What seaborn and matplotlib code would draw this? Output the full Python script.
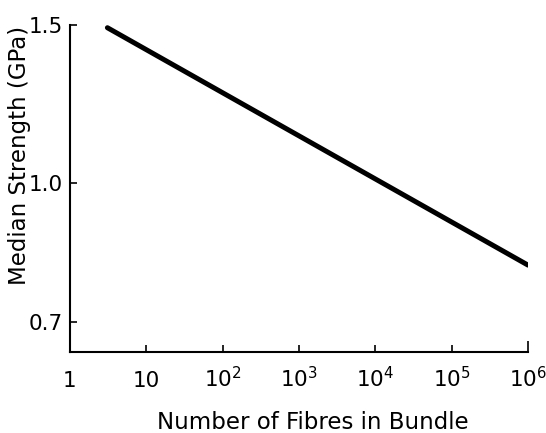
import numpy as np
import pandas as pd
import seaborn as sns
import matplotlib.pyplot as plt

# values (log-log straight line)
fibres = [3.1, 1e6]
strength = [1.49, 0.81]

x_ticks = [1, 10, 1e2, 1e3, 1e4, 1e5, 1e6]
x_labels = ["1", "10", r"$10^2$", r"$10^3$", r"$10^4$", r"$10^5$", r"$10^6$"]
y_ticks = [0.7, 1.0, 1.5]
y_labels = ["0.7", "1.0", "1.5"]

df = pd.DataFrame({"fibres": fibres, "strength": strength})

sns.set_style("ticks")
plt.rcParams["font.family"] = ["DejaVu Sans"]
plt.rcParams["mathtext.fontset"] = "dejavusans"
plt.rcParams["text.color"] = "black"
plt.rcParams["axes.labelcolor"] = "black"

fig = plt.figure(figsize=(5.46, 4.33), dpi=100)
ax = fig.add_axes([0.128, 0.187, 0.839, 0.755])

sns.lineplot(data=df, x="fibres", y="strength", color="black", linewidth=3.6, ax=ax,
             solid_capstyle="round")

ax.set_xscale("log")
ax.set_yscale("log")
ax.set_xlim(1, 1e6)
ax.set_ylim(0.648, 1.5)

ax.set_xticks(x_ticks)
ax.set_xticklabels(x_labels)
ax.xaxis.set_minor_locator(plt.NullLocator())
ax.set_yticks(y_ticks)
ax.set_yticklabels(y_labels)
ax.yaxis.set_minor_locator(plt.NullLocator())

ax.tick_params(axis="both", direction="in", length=5, width=1.2, labelsize=15.5,
               colors="black")
ax.tick_params(axis="x", pad=25)
ax.tick_params(axis="y", pad=5)
for lab in ax.get_xticklabels():
    lab.set_va("baseline")
# the end tick at 10^6 is a bit taller in the scan
ax.xaxis.get_major_ticks()[-1].tick1line.set_markersize(8)

sns.despine(ax=ax)
for side in ["left", "bottom"]:
    ax.spines[side].set_linewidth(1.5)
    ax.spines[side].set_color("black")

ax.set_xlabel("Number of Fibres in Bundle", fontsize=16.5)
ax.set_ylabel("Median Strength (GPa)", fontsize=16.5)
# label positions as in the scan (y label sits high)
ax.xaxis.set_label_coords(0.53, -0.18)
ax.yaxis.set_label_coords(-0.085, 0.6)

fig.savefig("out.png", dpi=100)
